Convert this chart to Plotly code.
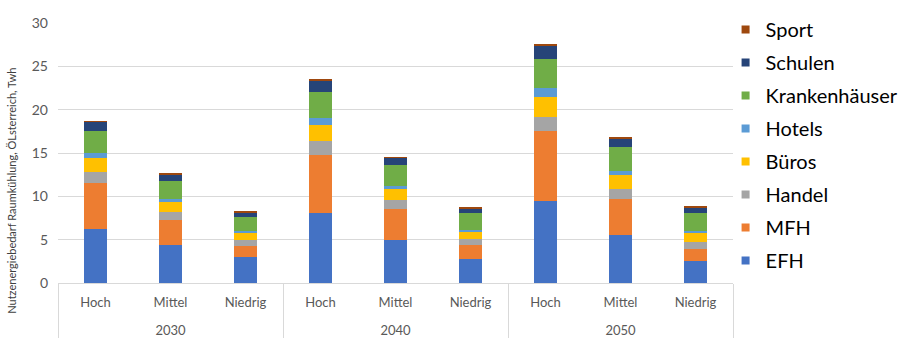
import plotly.graph_objects as go

years = ["2030", "2030", "2030", "2040", "2040", "2040", "2050", "2050", "2050"]
scenarios = ["Hoch", "Mittel", "Niedrig"] * 3

series_names = ["EFH", "MFH", "Handel", "Büros", "Hotels", "Krankenhäuser", "Schulen", "Sport"]
colors = ["#4472C4", "#ED7D31", "#A5A5A5", "#FFC000", "#5B9BD5", "#70AD47", "#264478", "#9E480E"]

EFH = [6.27, 4.42, 2.96, 8.03, 5.00, 2.80, 9.42, 5.57, 2.50]
MFH = [5.27, 2.85, 1.31, 6.77, 3.50, 1.54, 8.07, 4.16, 1.46]
Handel = [1.22, 0.96, 0.73, 1.54, 1.03, 0.77, 1.70, 1.15, 0.81]
Bueros = [1.62, 1.15, 0.84, 1.92, 1.35, 0.84, 2.31, 1.62, 1.00]
Hotels = [0.58, 0.27, 0.16, 0.73, 0.35, 0.20, 0.95, 0.46, 0.19]
Krankenhaeuser = [2.53, 2.08, 1.61, 3.08, 2.38, 1.88, 3.40, 2.73, 2.15]
Schulen = [1.09, 0.80, 0.54, 1.27, 0.85, 0.58, 1.57, 0.96, 0.61]
Sport = [0.11, 0.08, 0.08, 0.12, 0.07, 0.08, 0.08, 0.11, 0.08]

values = [EFH, MFH, Handel, Bueros, Hotels, Krankenhaeuser, Schulen, Sport]

y_ticks = [0, 5, 10, 15, 20, 25, 30]
y_title = "Nutzenergiebedarf Raumkühlung, ÖLsterreich, Twh"

FONT = "Lato"
fig = go.Figure()

# year labels get an empty first line so they sit lower, as in the reference
year_labels = ["<br>" + y for y in years]

for name, col, vals in zip(series_names, colors, values):
    fig.add_trace(go.Bar(
        x=[year_labels, scenarios], y=vals, name=name,
        marker=dict(color=col, line=dict(width=0)),
        showlegend=False,
    ))

# legend entries (small square markers), top entry = last series
for name, col in reversed(list(zip(series_names, colors))):
    fig.add_trace(go.Scatter(
        x=[None], y=[None], mode="markers", name=name,
        marker=dict(symbol="square", size=8, color=col),
        xaxis="x2", yaxis="y2", legendgroup=name, showlegend=True,
    ))

fig.update_layout(
    width=908, height=343,
    margin=dict(l=58, r=175, t=23, b=60, autoexpand=False),
    paper_bgcolor="white", plot_bgcolor="white",
    barmode="stack", bargap=0.69,
    font=dict(family=FONT, color="#595959", size=14),
    showlegend=True,
    legend=dict(
        x=0.989, y=1.0496, xanchor="left", yanchor="top",
        traceorder="grouped", tracegroupgap=4, maxheight=335,
        bgcolor="rgba(0,0,0,0)",
        font=dict(family=FONT, size=20, color="#000000"),
        itemwidth=30,
    ),
    xaxis=dict(
        type="multicategory", showline=True, linecolor="#d9d9d9", linewidth=1,
        showdividers=True, dividercolor="#d9d9d9", dividerwidth=1,
        ticks="", ticklabelstandoff=7, automargin=False,
        tickfont=dict(family=FONT, size=13, color="#595959"),
        showgrid=False, range=[-0.5, 8.5],
    ),
    yaxis=dict(
        range=[0, 30], tickvals=y_ticks, showgrid=True, gridcolor="#d9d9d9",
        gridwidth=1, zeroline=False, ticks="", ticklabelstandoff=9,
        automargin=False,
        tickfont=dict(family=FONT, size=14, color="#595959"),
    ),
    xaxis2=dict(visible=False, anchor="y2", overlaying="x"),
    yaxis2=dict(visible=False, anchor="x2", overlaying="y"),
    annotations=[dict(
        text=y_title, textangle=-90, xref="paper", yref="paper",
        x=-0.068, y=0.355, xanchor="center", yanchor="middle", showarrow=False,
        font=dict(family=FONT, size=11, color="#404040"),
    )],
)

fig.write_html("out.html")
